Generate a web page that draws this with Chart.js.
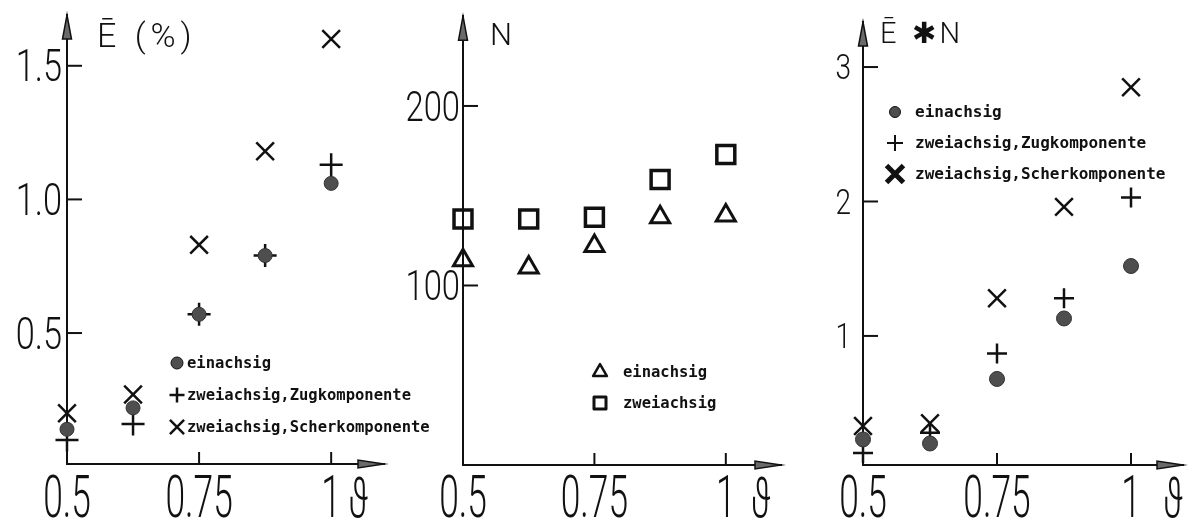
<!DOCTYPE html>
<html>
<head>
<meta charset="utf-8">
<script src="https://cdn.jsdelivr.net/npm/chart.js@4.4.1/dist/chart.umd.min.js"></script>
<style>
  html, body { margin: 0; padding: 0; background: #fff; }
  #wrap { position: relative; width: 1200px; height: 523px; overflow: hidden; background: #fff; }
  #wrap canvas { position: absolute; left: 0; top: 0; }
</style>
</head>
<body>
<div id="wrap">
  <canvas id="strain" width="1200" height="523"></canvas>
  <canvas id="cycles" width="1200" height="523"></canvas>
  <canvas id="product" width="1200" height="523"></canvas>
</div>
<script>
// Load ratio theta (x) shared by all three panels
const theta = [0.5, 0.625, 0.75, 0.875, 1.0];
const thetaTicks = [0.5, 0.75, 1];
const thetaTickLabels = ['0.5', '0.75', '1'];

// Panel 1: mean strain E (%)
const strainTicks = [0.5, 1.0, 1.5];
const strainTickLabels = ['0.5', '1.0', '1.5'];
const strainUniaxial = [0.14, 0.22, 0.57, 0.79, 1.06];
const strainBiaxialTension = [0.10, 0.16, 0.57, 0.79, 1.13];
const strainBiaxialShear = [0.20, 0.27, 0.83, 1.18, 1.60];

// Panel 2: cycles N
const cycleTicks = [100, 200];
const cycleTickLabels = ['100', '200'];
const cyclesUniaxial = [114, 110, 122, 138, 139];
const cyclesBiaxial = [137, 137, 138, 159, 173];

// Panel 3: product E * N
const productTicks = [1, 2, 3];
const productTickLabels = ['1', '2', '3'];
const productUniaxial = [0.23, 0.20, 0.68, 1.13, 1.52];
const productBiaxialTension = [0.13, 0.28, 0.87, 1.28, 2.03];
const productBiaxialShear = [0.33, 0.35, 1.28, 1.96, 2.85];

const INK = '#111';
const DOT = '#4e4e4e';
const LETTER = "Roboto, 'DejaVu Sans', sans-serif";
const MONO = "'DejaVu Sans Mono', 'Liberation Mono', monospace";

// small marker painter used for the in-plot legends
function paintMark(ctx, style, x, y, r, lw, fill) {
  ctx.save();
  ctx.lineWidth = lw;
  ctx.strokeStyle = INK;
  ctx.fillStyle = fill || 'rgba(0,0,0,0)';
  ctx.lineJoin = 'round';
  ctx.beginPath();
  if (style === 'circle') {
    ctx.arc(x, y, r, 0, Math.PI * 2);
    ctx.fill(); ctx.stroke();
  } else if (style === 'cross') {
    ctx.moveTo(x - r, y); ctx.lineTo(x + r, y);
    ctx.moveTo(x, y - r); ctx.lineTo(x, y + r);
    ctx.stroke();
  } else if (style === 'crossRot') {
    const d = r * Math.SQRT1_2;
    ctx.moveTo(x - d, y - d); ctx.lineTo(x + d, y + d);
    ctx.moveTo(x + d, y - d); ctx.lineTo(x - d, y + d);
    ctx.stroke();
  } else if (style === 'triangle') {
    const a = 2 * Math.PI / 3;
    ctx.moveTo(x, y - r);
    ctx.lineTo(x + Math.sin(a) * r, y - Math.cos(a) * r);
    ctx.lineTo(x + Math.sin(2 * a) * r, y - Math.cos(2 * a) * r);
    ctx.closePath();
    ctx.stroke();
  } else if (style === 'rect') {
    const s = r * Math.SQRT1_2;
    ctx.rect(x - s, y - s, 2 * s, 2 * s);
    ctx.stroke();
  }
  ctx.restore();
}

// condensed lettering: text squeezed horizontally around an anchor
function squeezedText(ctx, text, x, y, size, sx, align) {
  ctx.save();
  ctx.translate(x, y);
  ctx.scale(sx, 1);
  ctx.font = '300 ' + size + 'px ' + LETTER;
  ctx.textAlign = align;
  ctx.textBaseline = 'alphabetic';
  ctx.fillText(text, 0, 0);
  ctx.restore();
}

// axis decorations: inward tick marks, arrow heads, tick labels, titles, legend
function decorPlugin(cfg) {
  return {
    id: 'decor',
    afterDraw(chart) {
      const ctx = chart.ctx;
      const xs = chart.scales.x, ys = chart.scales.y;
      const a = chart.chartArea;
      ctx.save();
      ctx.strokeStyle = INK;
      ctx.lineWidth = 2;
      // y tick marks pointing right
      ys.ticks.forEach(t => {
        const py = ys.getPixelForValue(t.value);
        ctx.beginPath(); ctx.moveTo(a.left, py); ctx.lineTo(a.left + 15, py); ctx.stroke();
      });
      // x tick marks pointing up
      xs.ticks.forEach(t => {
        if (t.value === xs.min) return;
        const px = xs.getPixelForValue(t.value);
        ctx.beginPath(); ctx.moveTo(px, a.bottom); ctx.lineTo(px, a.bottom - 12); ctx.stroke();
      });
      // arrow heads
      ctx.fillStyle = '#6a6a6a';
      ctx.lineWidth = 1.5;
      ctx.beginPath();
      ctx.moveTo(a.left, a.top);
      ctx.lineTo(a.left + 4.5, a.top + 24);
      ctx.lineTo(a.left - 4.5, a.top + 24);
      ctx.closePath(); ctx.fill(); ctx.stroke();
      ctx.beginPath();
      ctx.moveTo(a.right, a.bottom);
      ctx.lineTo(a.right - 26, a.bottom - 4);
      ctx.lineTo(a.right - 26, a.bottom + 4);
      ctx.closePath(); ctx.fill(); ctx.stroke();

      ctx.fillStyle = INK;
      // x tick labels
      xs.ticks.forEach(t => {
        const i = thetaTicks.indexOf(t.value);
        squeezedText(ctx, thetaTickLabels[i], xs.getPixelForValue(t.value), 517, 59, 0.6, 'center');
      });
      // axis symbol theta next to the last tick
      squeezedText(ctx, '\u03D1', xs.getPixelForValue(1) + cfg.thetaOffset, 517, 56, 0.62, 'center');
      // y tick labels
      ys.ticks.forEach(t => {
        const i = cfg.yTicks.indexOf(t.value);
        const py = ys.getPixelForValue(t.value);
        squeezedText(ctx, cfg.yLabels[i], a.left - cfg.yPad, py + cfg.ySize * 0.355, cfg.ySize, cfg.ySx, 'right');
      });

      // y axis title
      ctx.textAlign = 'left';
      ctx.textBaseline = 'alphabetic';
      ctx.font = '300 ' + cfg.title.size + 'px ' + LETTER;
      ctx.letterSpacing = cfg.title.spacing + 'px';
      ctx.fillText(cfg.title.text, cfg.title.x, cfg.title.y);
      ctx.letterSpacing = '0px';

      // legend
      ctx.font = 'bold ' + cfg.legend.size + 'px ' + MONO;
      ctx.textBaseline = 'middle';
      cfg.legend.rows.forEach((row, k) => {
        const y = cfg.legend.y + k * cfg.legend.step;
        paintMark(ctx, row.style, cfg.legend.markX, y, row.r, row.lw, row.fill);
        ctx.fillStyle = INK;
        ctx.fillText(row.text, cfg.legend.textX, y + 1);
      });
      ctx.restore();
    }
  };
}

function makePanel(id, cfg) {
  const datasets = cfg.series.map(s => ({
    label: s.label,
    data: theta.map((t, i) => ({ x: t, y: s.values[i] })),
    pointStyle: s.style,
    pointRadius: s.r,
    pointHoverRadius: s.r,
    pointBorderWidth: s.lw,
    borderWidth: s.lw,
    borderColor: INK,
    pointBorderColor: s.style === 'circle' ? '#333' : INK,
    backgroundColor: s.fill || 'rgba(0,0,0,0)',
    pointBackgroundColor: s.fill || 'rgba(0,0,0,0)',
    showLine: false,
    clip: false
  }));
  return new Chart(document.getElementById(id), {
    type: 'scatter',
    data: { datasets },
    options: {
      responsive: false,
      animation: false,
      devicePixelRatio: 1,
      events: [],
      layout: { padding: { left: cfg.padLeft, top: cfg.top, right: 1200 - cfg.right, bottom: 0 } },
      plugins: { legend: { display: false }, tooltip: { enabled: false } },
      scales: {
        x: {
          type: 'linear', min: 0.5, max: cfg.xMax,
          grid: { display: false, drawTicks: false },
          border: { display: true, color: INK, width: 2 },
          ticks: { display: false },
          afterBuildTicks: s => { s.ticks = thetaTicks.map(v => ({ value: v })); },
          afterFit: s => { s.height = 523 - cfg.bottom; s.paddingLeft = 0; s.paddingRight = 0; }
        },
        y: {
          type: 'linear', min: cfg.yMin, max: cfg.yMax,
          grid: { display: false, drawTicks: false },
          border: { display: true, color: INK, width: 2 },
          ticks: { display: false },
          afterBuildTicks: s => { s.ticks = cfg.yTicks.map(v => ({ value: v })); },
          afterFit: s => { s.width = cfg.left - cfg.padLeft; s.paddingTop = 0; s.paddingBottom = 0; }
        }
      }
    },
    plugins: [decorPlugin(cfg)]
  });
}

makePanel('strain', {
  padLeft: 0, left: 67, right: 384, top: 10, bottom: 464,
  xMax: 1.1, yMin: 0.01, yMax: 1.69,
  yTicks: strainTicks, yLabels: strainTickLabels, ySize: 44, ySx: 0.78, yPad: 5,
  thetaOffset: 27,
  title: { text: '\u0112 (%)', x: 97, y: 47, size: 34, spacing: 5 },
  series: [
    { label: 'einachsig', values: strainUniaxial, style: 'circle', r: 7, lw: 1, fill: DOT },
    { label: 'zweiachsig, Zugkomponente', values: strainBiaxialTension, style: 'cross', r: 11.5, lw: 2.5 },
    { label: 'zweiachsig, Scherkomponente', values: strainBiaxialShear, style: 'crossRot', r: 12.5, lw: 2.5 }
  ],
  legend: {
    markX: 177, textX: 187, y: 363, step: 32, size: 15.5,
    rows: [
      { text: 'einachsig', style: 'circle', r: 6, lw: 1, fill: DOT },
      { text: 'zweiachsig,Zugkomponente', style: 'cross', r: 7.5, lw: 2.5 },
      { text: 'zweiachsig,Scherkomponente', style: 'crossRot', r: 10, lw: 2.5 }
    ]
  }
});

makePanel('cycles', {
  padLeft: 400, left: 463, right: 781, top: 13, bottom: 465,
  xMax: 1.105, yMin: 0, yMax: 250,
  yTicks: cycleTicks, yLabels: cycleTickLabels, ySize: 42, ySx: 0.78, yPad: 3,
  thetaOffset: 35,
  title: { text: 'N', x: 490, y: 45, size: 31, spacing: 0 },
  series: [
    { label: 'einachsig', values: cyclesUniaxial, style: 'triangle', r: 11, lw: 3 },
    { label: 'zweiachsig', values: cyclesBiaxial, style: 'rect', r: 12.7, lw: 3.5 }
  ],
  legend: {
    markX: 600, textX: 623, y: 372, step: 31, size: 15.5,
    rows: [
      { text: 'einachsig', style: 'triangle', r: 8, lw: 2.5 },
      { text: 'zweiachsig', style: 'rect', r: 8.5, lw: 3 }
    ]
  }
});

makePanel('product', {
  padLeft: 800, left: 863, right: 1183, top: 22, bottom: 465,
  xMax: 1.097, yMin: 0.04, yMax: 3.335,
  yTicks: productTicks, yLabels: productTickLabels, ySize: 35, ySx: 0.8, yPad: 12,
  thetaOffset: 42,
  title: { text: '\u0112 \u2731N', x: 880, y: 43, size: 29, spacing: 4 },
  series: [
    { label: 'einachsig', values: productUniaxial, style: 'circle', r: 7.5, lw: 1, fill: DOT },
    { label: 'zweiachsig, Zugkomponente', values: productBiaxialTension, style: 'cross', r: 10, lw: 2.5 },
    { label: 'zweiachsig, Scherkomponente', values: productBiaxialShear, style: 'crossRot', r: 12.5, lw: 2.5 }
  ],
  legend: {
    markX: 895, textX: 915, y: 112, step: 31, size: 16,
    rows: [
      { text: 'einachsig', style: 'circle', r: 5.5, lw: 1, fill: DOT },
      { text: 'zweiachsig,Zugkomponente', style: 'cross', r: 8, lw: 2 },
      { text: 'zweiachsig,Scherkomponente', style: 'crossRot', r: 12, lw: 5 }
    ]
  }
});
</script>
</body>
</html>
